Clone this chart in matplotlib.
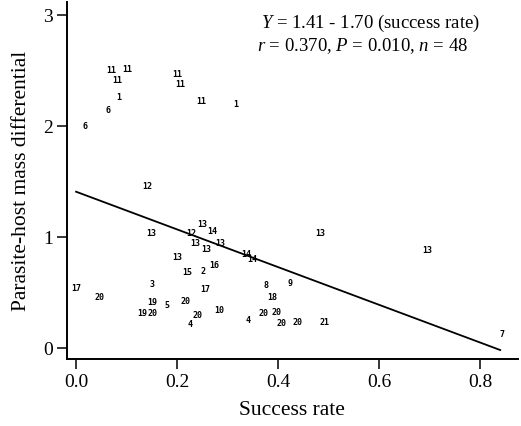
import matplotlib
matplotlib.use('Agg')
import matplotlib.pyplot as plt

plt.rcParams['font.family'] = 'Liberation Serif'
plt.rcParams['mathtext.fontset'] = 'custom'
plt.rcParams['mathtext.rm'] = 'Liberation Serif'
plt.rcParams['mathtext.it'] = 'Liberation Serif:italic'

# success rate, mass differential and the species number printed at each point
success = [0.069, 0.102, 0.081, 0.201, 0.206, 0.085, 0.063, 0.018, 0.248, 0.316,
           0.141, 0.149, 0.249, 0.229, 0.270, 0.237, 0.257, 0.285, 0.338, 0.349,
           0.201, 0.274,
           0.221, 0.252, 0.000, 0.046, 0.151, 0.255, 0.150, 0.180, 0.217, 0.131,
           0.152, 0.240, 0.283, 0.226, 0.341,
           0.483, 0.376, 0.423, 0.388, 0.372, 0.397, 0.407, 0.439, 0.492,
           0.696, 0.843]
mass_diff = [2.50, 2.51, 2.41, 2.47, 2.38, 2.26, 2.14, 2.00, 2.22, 2.20,
             1.46, 1.03, 1.11, 1.03, 1.05, 0.94, 0.89, 0.94, 0.84, 0.80,
             0.82, 0.74,
             0.68, 0.69, 0.54, 0.46, 0.57, 0.53, 0.41, 0.38, 0.42, 0.31,
             0.31, 0.29, 0.34, 0.21, 0.25,
             1.03, 0.56, 0.58, 0.46, 0.31, 0.32, 0.22, 0.23, 0.23,
             0.88, 0.12]
species = ['11', '11', '11', '11', '11', '1', '6', '6', '11', '1',
           '12', '13', '13', '12', '14', '13', '13', '13', '14', '14',
           '13', '16',
           '15', '2', '17', '20', '3', '17', '19', '5', '20', '19',
           '20', '20', '10', '4', '4',
           '13', '8', '9', '18', '20', '20', '20', '20', '21',
           '13', '7']

intercept = 1.41
slope = -1.70
fit_x = [0.0, 0.84]

fig = plt.figure(figsize=(5.21, 4.26), dpi=100)
ax = fig.add_axes([0.1286, 0.157, 0.8654, 0.838])

for x, y, s in zip(success, mass_diff, species):
    ax.text(x, y, s, ha='center', va='center', fontsize=6,
            family='DejaVu Sans Mono', fontweight='bold')

ax.plot(fit_x, [intercept + slope * x for x in fit_x], color='black', lw=1.3)

ax.set_xlim(-0.018, 0.875)
ax.set_ylim(-0.1, 3.12)
ax.set_xticks([0.0, 0.2, 0.4, 0.6, 0.8])
ax.set_xticklabels(['0.0', '0.2', '0.4', '0.6', '0.8'])
ax.set_yticks([0, 1, 2, 3])

for side in ['top', 'right']:
    ax.spines[side].set_visible(False)
for side in ['left', 'bottom']:
    ax.spines[side].set_linewidth(1.4)

ax.tick_params(axis='both', direction='out', length=7, width=1.1, labelsize=14)
ax.tick_params(axis='x', pad=4)
ax.tick_params(axis='y', pad=3)

ax.set_xlabel('Success rate', fontsize=15.5, labelpad=7)
ax.set_ylabel('Parasite-host mass differential', fontsize=15.5, labelpad=9)

ax.text(0.366, 2.93, r'$Y$ = 1.41 - 1.70 (success rate)', fontsize=13.5, va='center')
ax.text(0.358, 2.72, r'$r$ = 0.370, $P$ = 0.010, $n$ = 48', fontsize=13.5, va='center')

fig.savefig('out.png', dpi=100)
